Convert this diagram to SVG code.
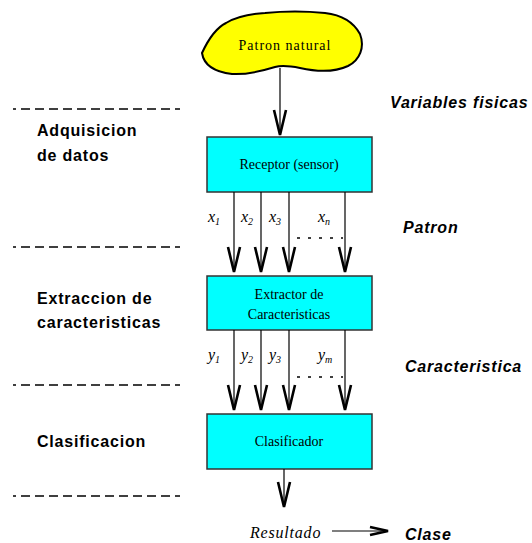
<svg xmlns="http://www.w3.org/2000/svg" width="532" height="543" viewBox="0 0 532 543">
<style>
.box{fill:#00FFFF;stroke:#333;stroke-width:1.5}
.bt{font-family:"Liberation Serif",serif;font-size:14px;fill:#000;text-anchor:middle}
.lab{font-family:"Liberation Sans",Arial,sans-serif;font-size:16px;font-weight:bold;letter-spacing:0.8px;fill:#000}
.rl{font-family:"Liberation Sans",Arial,sans-serif;font-size:16px;font-weight:bold;font-style:italic;letter-spacing:0.8px;fill:#000}
.var{font-family:"Liberation Serif",serif;font-size:16px;font-style:italic;fill:#000}
.sub{font-size:10px}
.dash{stroke:#000;stroke-width:1.3;stroke-dasharray:9 5;fill:none}
.con{stroke:#000;stroke-width:1.2;fill:none}
.dots{stroke:#000;stroke-width:1.3;stroke-dasharray:3 8;fill:none}
</style>
<defs>
<marker id="v" viewBox="-28 -8 32 16" refX="0" refY="0" markerWidth="32" markerHeight="16" markerUnits="userSpaceOnUse" orient="auto">
<path d="M-25,-6 L0,0 L-25,6" fill="none" stroke="#000" stroke-width="2.6" stroke-linejoin="miter"/>
</marker>
<marker id="h" viewBox="-22 -8 26 16" refX="0" refY="0" markerWidth="26" markerHeight="16" markerUnits="userSpaceOnUse" orient="auto">
<path d="M-18,-4 L0,0 L-18,4" fill="none" stroke="#000" stroke-width="2.6"/>
</marker>
</defs>
<rect width="532" height="543" fill="#fff"/>

<g id="separators">
<line class="dash" x1="13" y1="109" x2="180" y2="109" stroke-dashoffset="6"/>
<line class="dash" x1="13" y1="247" x2="180" y2="247" stroke-dashoffset="6"/>
<line class="dash" x1="13" y1="385" x2="180" y2="385" stroke-dashoffset="6"/>
<line class="dash" x1="13" y1="496" x2="180" y2="496" stroke-dashoffset="6"/>
</g>

<g id="stage-labels">
<text class="lab" x="37" y="136">Adquisicion</text>
<text class="lab" x="37" y="161">de datos</text>
<text class="lab" x="37" y="304">Extraccion de</text>
<text class="lab" x="37" y="328">caracteristicas</text>
<text class="lab" x="37" y="447">Clasificacion</text>
</g>

<g id="side-labels">
<text class="rl" x="390" y="108">Variables fisicas</text>
<text class="rl" x="403" y="233">Patron</text>
<text class="rl" x="405" y="372">Caracteristica</text>
<text class="rl" x="405" y="540">Clase</text>
</g>

<g id="cloud">
<path d="M202,53 C208,40 216,28 226,23 C236,17 248,14 265,13 C285,11 305,11 325,13 C342,15 354,23 360,34 C365,47 360,60 348,66 C335,72 318,72 300,68 C290,66 282,65 275,67 C262,71 248,75 232,74 C215,72 204,66 202,53 Z" fill="#FFFF00" stroke="#000" stroke-width="2"/>
<text class="bt" x="285" y="50" font-size="15" letter-spacing="1">Patron natural</text>
</g>

<g id="receptor">
<rect class="box" x="207" y="137" width="165" height="55"/>
<text class="bt" x="289" y="169">Receptor (sensor)</text>
</g>

<g id="extractor">
<rect class="box" x="207" y="276" width="165" height="54"/>
<text class="bt" x="289" y="299">Extractor de</text>
<text class="bt" x="289" y="319">Caracteristicas</text>
</g>

<g id="clasificador">
<rect class="box" x="207" y="414" width="165" height="55"/>
<text class="bt" x="289" y="446">Clasificador</text>
</g>

<g id="connectors">
<line class="con" x1="280" y1="68" x2="280" y2="135" marker-end="url(#v)"/>
<line class="con" x1="234" y1="192" x2="234" y2="272" marker-end="url(#v)"/>
<line class="con" x1="261" y1="192" x2="261" y2="272" marker-end="url(#v)"/>
<line class="con" x1="289" y1="192" x2="289" y2="272" marker-end="url(#v)"/>
<line class="con" x1="345" y1="192" x2="345" y2="272" marker-end="url(#v)"/>
<line class="dots" x1="297" y1="238" x2="343" y2="238"/>
<line class="con" x1="234" y1="330" x2="234" y2="410" marker-end="url(#v)"/>
<line class="con" x1="261" y1="330" x2="261" y2="410" marker-end="url(#v)"/>
<line class="con" x1="289" y1="330" x2="289" y2="410" marker-end="url(#v)"/>
<line class="con" x1="345" y1="330" x2="345" y2="410" marker-end="url(#v)"/>
<line class="dots" x1="297" y1="377" x2="343" y2="377"/>
<line class="con" x1="284" y1="469" x2="284" y2="507" marker-end="url(#v)"/>
<line class="con" x1="332" y1="531" x2="388" y2="531" marker-end="url(#h)"/>
</g>

<g id="variable-labels">
<text class="var" x="208" y="222">x<tspan class="sub" dy="3">1</tspan></text>
<text class="var" x="241" y="222">x<tspan class="sub" dy="3">2</tspan></text>
<text class="var" x="269" y="222">x<tspan class="sub" dy="3">3</tspan></text>
<text class="var" x="318" y="222">x<tspan class="sub" dy="3">n</tspan></text>
<text class="var" x="208" y="360">y<tspan class="sub" dy="3">1</tspan></text>
<text class="var" x="241" y="360">y<tspan class="sub" dy="3">2</tspan></text>
<text class="var" x="269" y="360">y<tspan class="sub" dy="3">3</tspan></text>
<text class="var" x="318" y="360">y<tspan class="sub" dy="3">m</tspan></text>
<text class="var" x="250" y="538" font-size="15" letter-spacing="0.8">Resultado</text>
</g>
</svg>
